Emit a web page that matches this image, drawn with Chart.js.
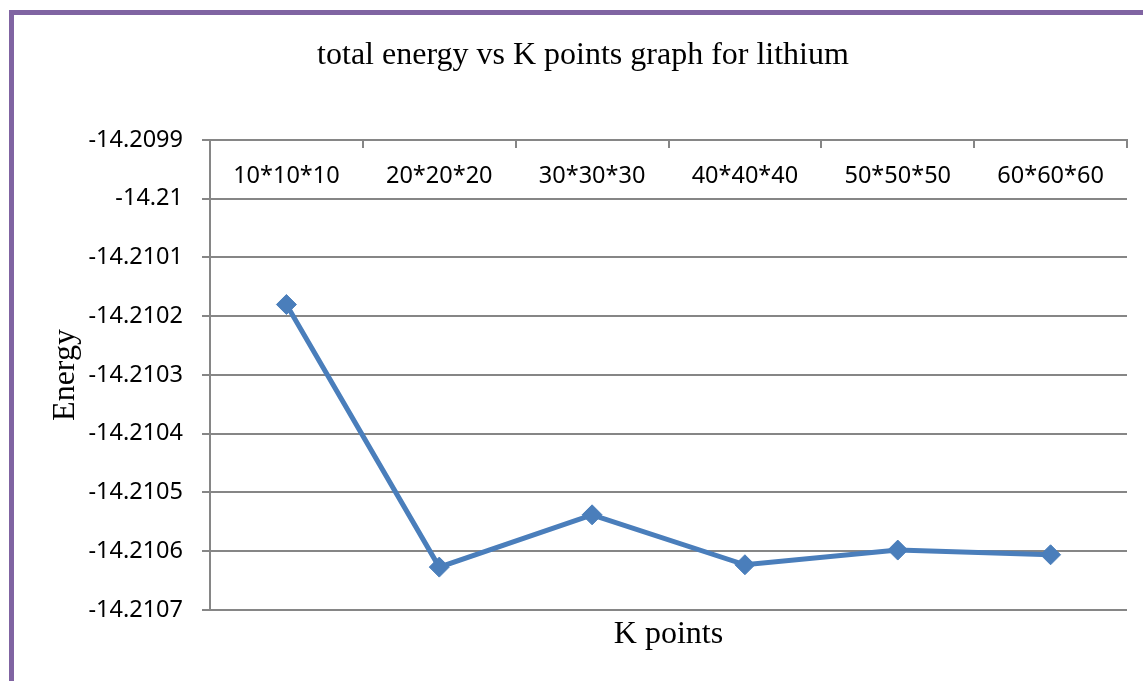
<!DOCTYPE html>
<html>
<head>
<meta charset="utf-8">
<script src="https://cdn.jsdelivr.net/npm/chart.js@4.4.0/dist/chart.umd.min.js"></script>
<style>
  html, body { margin: 0; padding: 0; background: #ffffff; overflow: hidden; }
  #frame { position: absolute; left: 9px; top: 10px; width: 1300px; height: 900px;
           border-left: 5px solid #8064A2; border-top: 5px solid #8064A2; box-sizing: border-box; }
  #wrap { position: absolute; left: 0; top: 0; width: 1143px; height: 681px; }
</style>
</head>
<body>
<div id="frame"></div>
<div id="wrap"><canvas id="c" width="1143" height="681"></canvas></div>
<script>
const categories = ['10*10*10', '20*20*20', '30*30*30', '40*40*40', '50*50*50', '60*60*60'];
const energy = [-14.21018, -14.210627, -14.210538, -14.210623, -14.210598, -14.210606];
const yMin = -14.2107;
const yMax = -14.2099;
const yStep = 0.0001;

const axisGrey = '#868686';
const labelFont = "'Noto Sans', 'Open Sans', sans-serif";
const serifFont = "'Liberation Serif', 'DejaVu Serif', serif";

new Chart(document.getElementById('c'), {
  type: 'line',
  data: {
    labels: categories,
    datasets: [{
      label: 'Energy',
      data: energy,
      borderColor: '#4A7EBB',
      backgroundColor: '#4A7EBB',
      borderWidth: 5,
      pointStyle: 'rectRot',
      pointRadius: 10,
      pointHoverRadius: 10,
      pointBackgroundColor: '#4A7EBB',
      pointBorderColor: '#4A7EBB',
      pointBorderWidth: 1,
      tension: 0,
      fill: false
    }]
  },
  options: {
    responsive: false,
    animation: false,
    events: [],
    layout: { padding: { left: 39, right: 16, top: 0, bottom: 0 } },
    plugins: {
      legend: { display: false },
      tooltip: { enabled: false },
      title: {
        display: true,
        text: 'total energy vs K points graph for lithium',
        color: '#000000',
        font: { family: serifFont, size: 32, weight: 'normal' },
        padding: { top: 36, bottom: 0 }
      }
    },
    scales: {
      x: {
        type: 'category',
        position: 'top',
        offset: true,
        grid: {
          display: true,
          offset: true,
          drawOnChartArea: false,
          drawTicks: true,
          tickLength: -8,
          color: axisGrey,
          lineWidth: 2
        },
        border: { display: true, color: axisGrey, width: 2 },
        ticks: {
          mirror: true,
          padding: 22,
          color: '#000000',
          font: { family: labelFont, size: 23.5 },
          maxRotation: 0,
          autoSkip: false
        },
        afterFit: (s) => { s.height = 140 - 74.4; }
      },
      x2: {
        type: 'category',
        axis: 'x',
        position: 'bottom',
        offset: true,
        grid: { display: false },
        border: { display: false },
        ticks: { display: false },
        title: {
          display: true,
          text: 'K points',
          color: '#000000',
          font: { family: serifFont, size: 32, weight: 'normal' },
          padding: { top: 0, bottom: 27 }
        },
        afterFit: (s) => { s.height = 681 - 610; }
      },
      y: {
        type: 'linear',
        min: yMin,
        max: yMax,
        grid: {
          color: axisGrey,
          lineWidth: 2,
          drawTicks: true,
          tickLength: 8
        },
        border: { display: true, color: axisGrey, width: 2 },
        ticks: {
          stepSize: yStep,
          padding: 19,
          color: '#000000',
          font: { family: labelFont, size: 23.5 },
          callback: (v) => String(Number(Number(v).toFixed(4)))
        },
        title: {
          display: true,
          text: 'Energy',
          color: '#000000',
          font: { family: serifFont, size: 32, weight: 'normal' },
          padding: { top: 7, bottom: 0 }
        },
        afterFit: (s) => { s.width = 210 - 39; }
      }
    }
  }
});
</script>
</body>
</html>
